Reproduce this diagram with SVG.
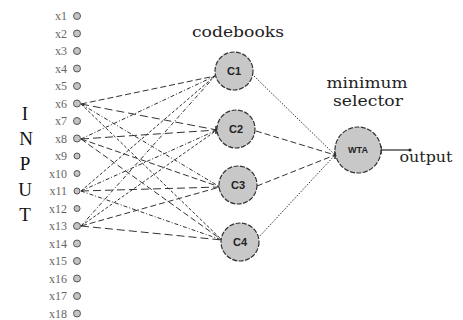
<svg xmlns="http://www.w3.org/2000/svg" width="463" height="320" viewBox="0 0 463 320">
<defs>
<style>
.bg{fill:#ffffff}
.in{fill:#c4c4c4;stroke:#555;stroke-width:1}
.lbl{font-family:"Liberation Serif",serif;font-size:12px;fill:#666;text-anchor:end}
.big{font-family:"Liberation Serif",serif;font-size:19px;fill:#111;text-anchor:middle}
.ttl{font-family:"DejaVu Serif","Liberation Serif",serif;font-size:15px;fill:#222;text-anchor:middle}
.cb{fill:#c8c8c8;stroke:#333;stroke-width:1.2;stroke-dasharray:5,1.5}
.cbt{font-family:"Liberation Sans",sans-serif;font-size:11px;font-weight:bold;fill:#222;text-anchor:middle}
.wt{font-family:"Liberation Sans",sans-serif;font-size:9px;font-weight:bold;fill:#222;text-anchor:middle}
.e{fill:none;stroke:#333;stroke-width:1}
.d1{stroke-dasharray:6,3}
.d2{stroke-dasharray:8,4}
.d3{stroke-dasharray:4,2,1,2}
.d4{stroke-dasharray:3,2}
.dot{stroke-dasharray:1.5,1.5}
.tick{stroke:#222;stroke-width:1.5}
</style>
</defs>
<rect class="bg" x="0" y="0" width="463" height="320"/>

<g id="input-label">
<text class="big" x="25" y="120">I</text>
<text class="big" x="26" y="145">N</text>
<text class="big" x="25" y="170">P</text>
<text class="big" x="25" y="196">U</text>
<text class="big" x="25" y="221">T</text>
</g>

<g id="connectors">
<path class="e d1" d="M81,104 L215,76"/>
<path class="e d2" d="M81,104 L217,130"/>
<path class="e d3" d="M81,104 L220,187"/>
<path class="e d4" d="M81,104 L222,240"/>
<path class="e d3" d="M81,139 L215,76"/>
<path class="e d2" d="M81,139 L217,130"/>
<path class="e d1" d="M81,139 L220,187"/>
<path class="e d1" d="M81,139 L222,240"/>
<path class="e d4" d="M81,191 L215,76"/>
<path class="e d3" d="M81,191 L217,130"/>
<path class="e d2" d="M81,191 L220,187"/>
<path class="e d3" d="M81,191 L222,240"/>
<path class="e d3" d="M81,226 L215,76"/>
<path class="e d4" d="M81,226 L217,130"/>
<path class="e d1" d="M81,226 L220,187"/>
<path class="e d2" d="M81,226 L222,240"/>
<path class="e dot" d="M254,76 L335,155"/>
<path class="e d1" d="M256,131 L335,155"/>
<path class="e d1" d="M257,186 L335,155"/>
<path class="e dot" d="M258,238 L335,155"/>
<path class="e" d="M381,150 L410,150" style="stroke-width:1.3"/>
<circle cx="410" cy="150" r="1.6" fill="#222"/>
<path class="tick" d="M381,146 L381,154"/>
<path class="tick" d="M335,151 L335,159"/>
<path class="tick" d="M216,126 L216,134"/>
</g>

<g id="inputs">
<g id="x1"><circle class="in" cx="77" cy="16" r="3.5"/><text class="lbl" x="67" y="20">x1</text></g>
<g id="x2"><circle class="in" cx="77" cy="33.5" r="3.5"/><text class="lbl" x="67" y="37.5">x2</text></g>
<g id="x3"><circle class="in" cx="77" cy="51" r="3.5"/><text class="lbl" x="67" y="55">x3</text></g>
<g id="x4"><circle class="in" cx="77" cy="68.5" r="3.5"/><text class="lbl" x="67" y="72.5">x4</text></g>
<g id="x5"><circle class="in" cx="77" cy="86" r="3.5"/><text class="lbl" x="67" y="90">x5</text></g>
<g id="x6"><circle class="in" cx="77" cy="103.5" r="3.5"/><text class="lbl" x="67" y="107.5">x6</text></g>
<g id="x7"><circle class="in" cx="77" cy="121" r="3.5"/><text class="lbl" x="67" y="125">x7</text></g>
<g id="x8"><circle class="in" cx="77" cy="138.5" r="3.5"/><text class="lbl" x="67" y="142.5">x8</text></g>
<g id="x9"><circle class="in" cx="77" cy="156" r="3"/><text class="lbl" x="67" y="160">x9</text></g>
<g id="x10"><circle class="in" cx="77" cy="173.5" r="3"/><text class="lbl" x="67" y="177.5">x10</text></g>
<g id="x11"><circle class="in" cx="77" cy="191" r="3"/><text class="lbl" x="67" y="195">x11</text></g>
<g id="x12"><circle class="in" cx="77" cy="208.5" r="3"/><text class="lbl" x="67" y="212.5">x12</text></g>
<g id="x13"><circle class="in" cx="77" cy="226" r="3.5"/><text class="lbl" x="67" y="230">x13</text></g>
<g id="x14"><circle class="in" cx="77" cy="243.5" r="3.5"/><text class="lbl" x="67" y="247.5">x14</text></g>
<g id="x15"><circle class="in" cx="77" cy="261" r="3.5"/><text class="lbl" x="67" y="265">x15</text></g>
<g id="x16"><circle class="in" cx="77" cy="278.5" r="3.5"/><text class="lbl" x="67" y="282.5">x16</text></g>
<g id="x17"><circle class="in" cx="77" cy="296" r="3.5"/><text class="lbl" x="67" y="300">x17</text></g>
<g id="x18"><circle class="in" cx="77" cy="313.5" r="3.5"/><text class="lbl" x="67" y="317.5">x18</text></g>
</g>

<g id="codebooks-title"><text class="ttl" x="238" y="37" textLength="92" lengthAdjust="spacingAndGlyphs">codebooks</text></g>

<g id="C1"><circle class="cb" cx="234" cy="71" r="19"/><text class="cbt" x="234" y="75">C1</text></g>
<g id="C2"><circle class="cb" cx="236" cy="129" r="19"/><text class="cbt" x="236" y="133">C2</text></g>
<g id="C3"><circle class="cb" cx="238" cy="185" r="19"/><text class="cbt" x="238" y="189">C3</text></g>
<g id="C4"><circle class="cb" cx="240" cy="242" r="19"/><text class="cbt" x="240" y="246">C4</text></g>

<g id="selector-title">
<text class="ttl" x="367" y="88" textLength="81" lengthAdjust="spacingAndGlyphs">minimum</text>
<text class="ttl" x="368" y="106" textLength="70" lengthAdjust="spacingAndGlyphs">selector</text>
</g>

<g id="WTA"><circle class="cb" cx="358" cy="150" r="23"/><text class="wt" x="358" y="153">WTA</text></g>

<g id="output-label"><text class="ttl" x="426" y="162" textLength="53" lengthAdjust="spacingAndGlyphs">output</text></g>
</svg>
